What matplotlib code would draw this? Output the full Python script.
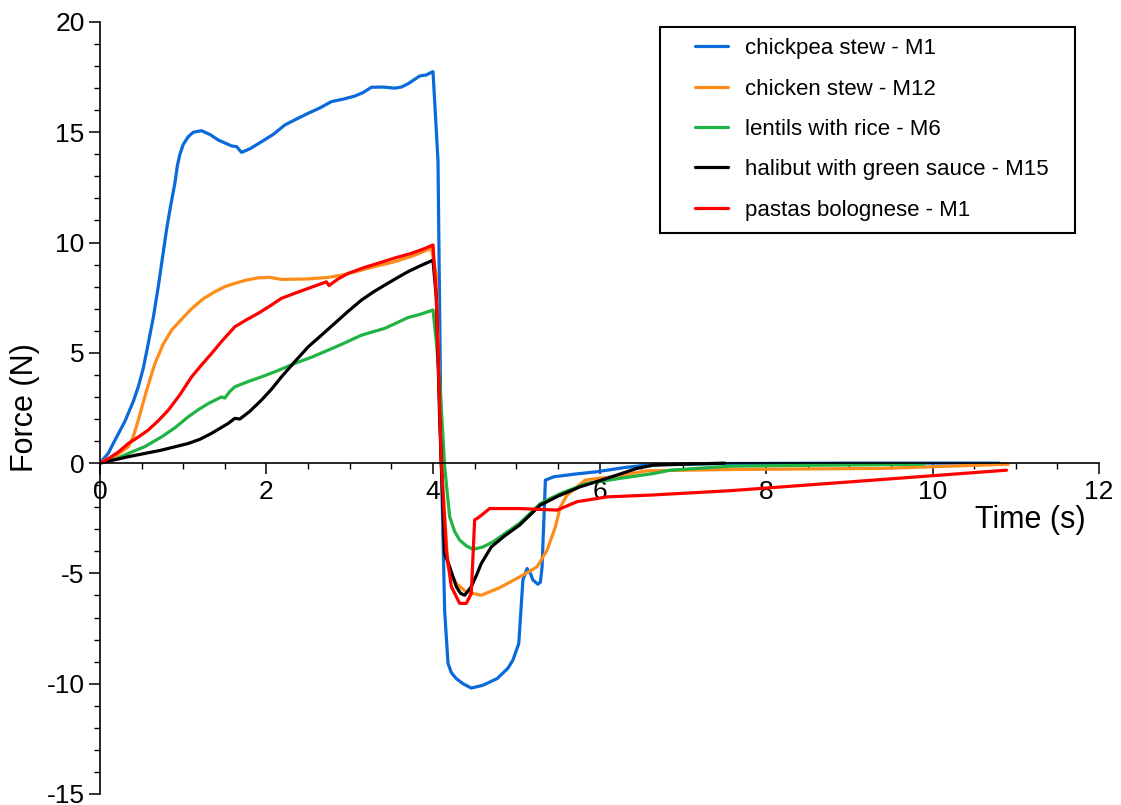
import matplotlib
matplotlib.use('Agg')
import matplotlib.pyplot as plt
from matplotlib.ticker import MultipleLocator
from matplotlib.patches import Rectangle

plt.rcParams['font.family'] = ['Liberation Sans', 'DejaVu Sans']
plt.rcParams['axes.unicode_minus'] = False  # 负号用普通连字符

# 数据
labels = ['chickpea stew - M1', 'chicken stew - M12', 'lentils with rice - M6',
          'halibut with green sauce - M15', 'pastas bolognese - M1']
colors = ['#0a6ad9', '#ff8c1a', '#1fb443', '#000000', '#ff0000']

t_chickpea = [0, 0.1, 0.18, 0.3, 0.4, 0.46, 0.52, 0.58, 0.64, 0.7, 0.75, 0.8, 0.85, 0.9,
              0.93, 0.96, 1.0, 1.06, 1.12, 1.22, 1.32, 1.42, 1.58, 1.64, 1.7, 1.8, 1.94,
              2.08, 2.22, 2.36, 2.5, 2.64, 2.78, 2.92, 3.06, 3.16, 3.26, 3.4, 3.54, 3.62,
              3.7, 3.78, 3.84, 3.92, 4.0, 4.06, 4.1, 4.14, 4.18, 4.22, 4.28, 4.36, 4.46,
              4.6, 4.77, 4.9, 4.96, 5.03, 5.08, 5.13, 5.17, 5.2, 5.26, 5.29, 5.31, 5.35,
              5.45, 5.7, 5.97, 6.3, 6.57, 7.0, 7.5, 9.0, 10.8]
f_chickpea = [0, 0.45, 1.04, 1.9, 2.8, 3.46, 4.3, 5.43, 6.6, 8.0, 9.3, 10.6, 11.7, 12.7,
              13.5, 14.0, 14.45, 14.8, 15.0, 15.07, 14.9, 14.65, 14.38, 14.35, 14.09, 14.25,
              14.57, 14.9, 15.33, 15.6, 15.86, 16.1, 16.39, 16.5, 16.64, 16.8, 17.04, 17.05,
              17.0, 17.05, 17.2, 17.4, 17.55, 17.6, 17.75, 13.7, 0, -6.7, -9.07, -9.5,
              -9.77, -10.0, -10.2, -10.07, -9.77, -9.3, -8.93, -8.18, -5.3, -4.78, -5.0,
              -5.3, -5.49, -5.4, -4.7, -0.77, -0.62, -0.5, -0.39, -0.2, -0.09, -0.04,
              -0.02, 0, 0]

t_chicken = [0, 0.06, 0.2, 0.34, 0.4, 0.46, 0.56, 0.66, 0.76, 0.86, 1.0, 1.1, 1.24, 1.38,
             1.5, 1.62, 1.76, 1.9, 2.04, 2.18, 2.5, 2.74, 2.94, 3.14, 3.34, 3.54, 3.76,
             3.98, 4.04, 4.1, 4.18, 4.28, 4.4, 4.58, 4.8, 5.04, 5.25, 5.37, 5.47, 5.53,
             5.61, 5.73, 5.83, 6.0, 6.17, 6.57, 7.57, 9.4, 10.91]
f_chicken = [0, 0.14, 0.35, 0.74, 1.2, 1.95, 3.3, 4.52, 5.4, 6.03, 6.6, 7.0, 7.45, 7.77,
             8.0, 8.15, 8.3, 8.4, 8.42, 8.33, 8.35, 8.42, 8.55, 8.75, 8.95, 9.13, 9.4,
             9.74, 8.5, 0, -4.7, -5.46, -5.84, -5.99, -5.65, -5.16, -4.7, -3.95, -2.89,
             -1.98, -1.45, -1.07, -0.77, -0.68, -0.62, -0.35, -0.29, -0.24, -0.05]

t_lentils = [0, 0.2, 0.34, 0.54, 0.74, 0.9, 1.06, 1.18, 1.3, 1.46, 1.5, 1.56, 1.62, 1.78,
             1.94, 2.14, 2.34, 2.54, 2.74, 2.94, 3.14, 3.42, 3.56, 3.7, 3.85, 4.0, 4.04,
             4.08, 4.14, 4.2, 4.26, 4.32, 4.4, 4.48, 4.6, 4.72, 5.04, 5.29, 5.53, 5.85,
             6.25, 6.65, 6.85, 7.57, 8.5, 9.9]
f_lentils = [0, 0.2, 0.44, 0.75, 1.19, 1.6, 2.1, 2.42, 2.7, 3.0, 2.95, 3.25, 3.46, 3.7,
             3.91, 4.2, 4.52, 4.8, 5.12, 5.45, 5.8, 6.11, 6.35, 6.6, 6.75, 6.94, 5.5, 3.76,
             -0.17, -2.43, -3.1, -3.49, -3.75, -3.91, -3.8, -3.57, -2.73, -1.83, -1.38,
             -0.92, -0.69, -0.47, -0.32, -0.14, -0.1, -0.05]

t_halibut = [0, 0.34, 0.74, 1.06, 1.2, 1.34, 1.54, 1.62, 1.68, 1.8, 1.94, 2.06, 2.18,
             2.34, 2.5, 2.66, 2.82, 2.98, 3.14, 3.28, 3.42, 3.56, 3.7, 3.85, 4.0, 4.04,
             4.08, 4.14, 4.2, 4.28, 4.33, 4.38, 4.46, 4.52, 4.58, 4.7, 4.86, 5.04, 5.29,
             5.5, 5.77, 6.09, 6.45, 6.65, 7.5]
f_halibut = [0, 0.29, 0.59, 0.89, 1.08, 1.35, 1.8, 2.03, 2.0, 2.35, 2.86, 3.35, 3.91,
             4.6, 5.27, 5.8, 6.34, 6.88, 7.39, 7.75, 8.07, 8.38, 8.68, 8.95, 9.2, 7.5, 2.0,
             -4.1, -4.7, -5.6, -5.9, -5.99, -5.6, -5.1, -4.55, -3.8, -3.3, -2.81, -1.9,
             -1.5, -1.07, -0.69, -0.24, -0.09, 0]

t_bolognese = [0, 0.1, 0.22, 0.34, 0.46, 0.58, 0.7, 0.82, 0.96, 1.1, 1.22, 1.34, 1.48,
               1.62, 1.76, 1.9, 2.04, 2.18, 2.34, 2.5, 2.72, 2.75, 2.86, 2.98, 3.16, 3.34,
               3.54, 3.74, 3.88, 4.0, 4.04, 4.1, 4.16, 4.22, 4.32, 4.4, 4.46, 4.5, 4.56,
               4.68, 5.04, 5.49, 5.73, 6.09, 6.61, 7.57, 9.01, 10.89]
f_bolognese = [0, 0.2, 0.5, 0.89, 1.18, 1.5, 1.92, 2.4, 3.1, 3.91, 4.45, 4.97, 5.6, 6.18,
               6.5, 6.79, 7.12, 7.47, 7.7, 7.92, 8.22, 8.05, 8.35, 8.6, 8.85, 9.06, 9.3,
               9.51, 9.7, 9.89, 7.5, 0, -3.95, -5.6, -6.36, -6.36, -5.91, -2.58, -2.43,
               -2.06, -2.06, -2.13, -1.75, -1.53, -1.45, -1.25, -0.85, -0.32]

series_t = [t_chickpea, t_chicken, t_lentils, t_halibut, t_bolognese]
series_f = [f_chickpea, f_chicken, f_lentils, f_halibut, f_bolognese]

fig = plt.figure(figsize=(11.21, 8.05), dpi=100)
ax = fig.add_axes([0.0892, 0.0137, 0.8912, 0.959])

for t, f, c, lab in zip(series_t, series_f, colors, labels):
    ax.plot(t, f, color=c, lw=2.3, label=lab, solid_capstyle='round',
            solid_joinstyle='round')

ax.set_xlim(0, 12)
ax.set_ylim(-15, 20)
ax.spines['top'].set_visible(False)
ax.spines['right'].set_visible(False)
ax.spines['bottom'].set_position(('data', 0))
ax.spines['left'].set_position(('data', 0))
for s in ['bottom', 'left']:
    ax.spines[s].set_linewidth(1.2)

ax.xaxis.set_major_locator(MultipleLocator(2))
ax.xaxis.set_minor_locator(MultipleLocator(0.5))
ax.yaxis.set_major_locator(MultipleLocator(5))
ax.yaxis.set_minor_locator(MultipleLocator(1))
ax.tick_params(which='major', direction='out', length=8, width=1.1, labelsize=19)
ax.tick_params(which='minor', direction='out', length=4.5, width=1.0)
ax.tick_params(axis='x', pad=4)
ax.tick_params(axis='y', pad=3)

for lbl in ax.get_xticklabels():
    lbl.set_bbox(dict(facecolor='white', edgecolor='none', pad=0.5))

ax.set_xlabel('Time (s)', fontsize=22)
ax.xaxis.set_label_coords(0.931, 0.374)
ax.set_ylabel('Force (N)', fontsize=22)
ax.yaxis.set_label_coords(-0.06, 0.5)

# 图例：外框单独画，左右留白更宽
ax.add_patch(Rectangle((0.5606, 0.7267), 0.4154, 0.2668, transform=ax.transAxes,
                       facecolor='white', edgecolor='black', lw=1.5, zorder=4))
leg = ax.legend(loc='upper left', bbox_to_anchor=(0.5956, 0.979), borderaxespad=0,
                fontsize=16, handlelength=1.5, handletextpad=0.73, labelspacing=0.87,
                borderpad=0, frameon=False)
leg.set_zorder(5)

fig.savefig('out.png', dpi=100)
